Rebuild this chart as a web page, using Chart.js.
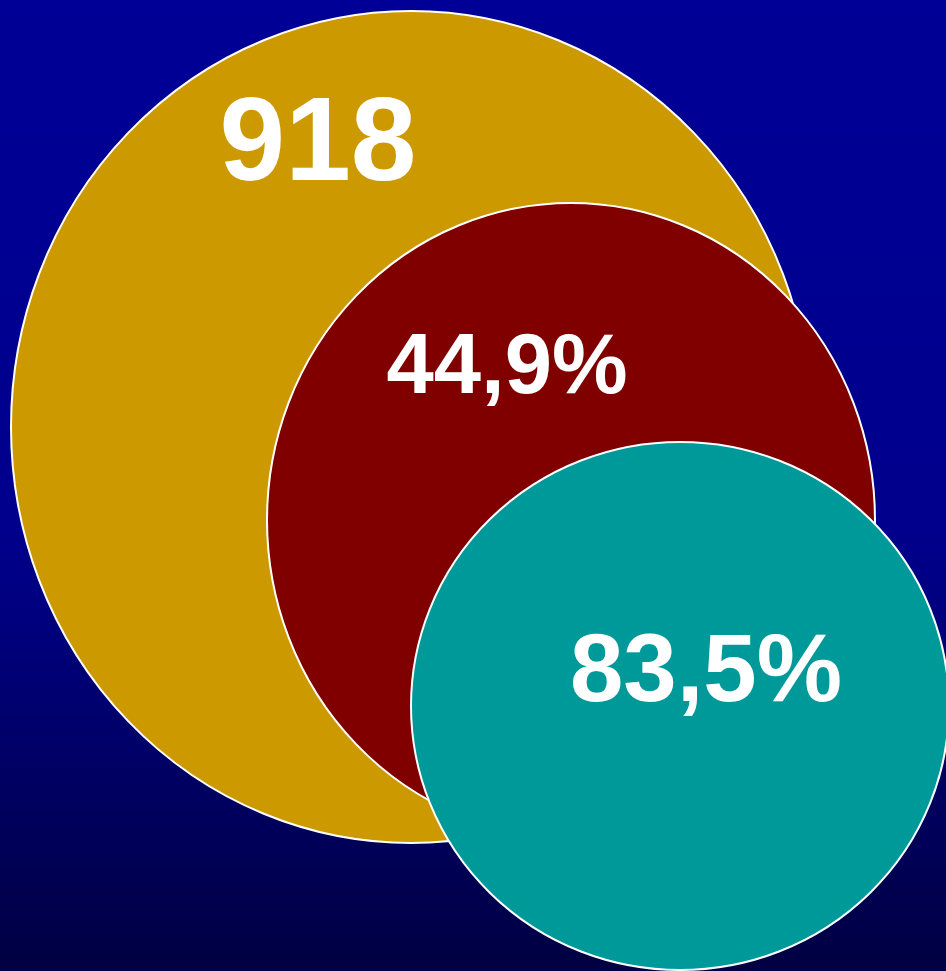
<!DOCTYPE html>
<html>
<head>
<meta charset="utf-8">
<script src="https://cdn.jsdelivr.net/npm/chart.js@4/dist/chart.umd.min.js"></script>
<style>
  html, body { margin: 0; padding: 0; background: #000070; }
  #wrap { width: 946px; height: 971px; }
</style>
</head>
<body>
<div id="wrap"><canvas id="circles" width="946" height="971"></canvas></div>
<script>
// values (axis units = pixels of the original slide)
const labels = ['918', '44,9%', '83,5%'];
const circleX = [411, 571, 680];
const circleY = [427, 520, 706];
const radiusX = [400, 304, 269];
const radiusY = [416, 317, 264];
const labelX = [318, 507, 706];
const labelY = [180, 393, 701];
const fontSizes = [118, 85, 96];
const colors = ['#CC9900', '#800000', '#009999'];

const ellipses = {
  id: 'ellipses',
  beforeDraw(chart) {
    const { ctx, width, height } = chart;
    const g = ctx.createLinearGradient(0, 0, 0, height);
    g.addColorStop(0, '#000096');
    g.addColorStop(0.55, '#00008c');
    g.addColorStop(1, '#000042');
    ctx.save();
    ctx.fillStyle = g;
    ctx.fillRect(0, 0, width, height);
    ctx.restore();
  },
  afterDatasetsDraw(chart) {
    const { ctx } = chart;
    const xs = chart.scales.x, ys = chart.scales.y;
    const meta = chart.getDatasetMeta(0);
    ctx.save();
    meta.data.forEach((pt, i) => {
      const rx = Math.abs(xs.getPixelForValue(circleX[i] + radiusX[i]) - pt.x);
      const ry = Math.abs(ys.getPixelForValue(circleY[i] + radiusY[i]) - pt.y);
      ctx.beginPath();
      ctx.ellipse(pt.x, pt.y, rx, ry, 0, 0, Math.PI * 2);
      ctx.fillStyle = colors[i];
      ctx.fill();
      ctx.lineWidth = 2;
      ctx.strokeStyle = '#ffffff';
      ctx.stroke();
    });
    ctx.fillStyle = '#ffffff';
    ctx.textAlign = 'center';
    ctx.textBaseline = 'alphabetic';
    labels.forEach((t, i) => {
      ctx.font = 'bold ' + fontSizes[i] + 'px "Liberation Sans", Arial, sans-serif';
      ctx.fillText(t, xs.getPixelForValue(labelX[i]), ys.getPixelForValue(labelY[i]));
    });
    ctx.restore();
  }
};

new Chart(document.getElementById('circles'), {
  type: 'scatter',
  data: {
    datasets: [{
      data: circleX.map((x, i) => ({ x: x, y: circleY[i] })),
      pointRadius: 0,
      pointHoverRadius: 0,
      backgroundColor: colors
    }]
  },
  options: {
    responsive: false,
    animation: false,
    events: [],
    layout: { padding: 0 },
    plugins: { legend: { display: false }, tooltip: { enabled: false } },
    scales: {
      x: { type: 'linear', min: 0, max: 946, display: false },
      y: { type: 'linear', min: 0, max: 971, reverse: true, display: false }
    }
  },
  plugins: [ellipses]
});
</script>
</body>
</html>
